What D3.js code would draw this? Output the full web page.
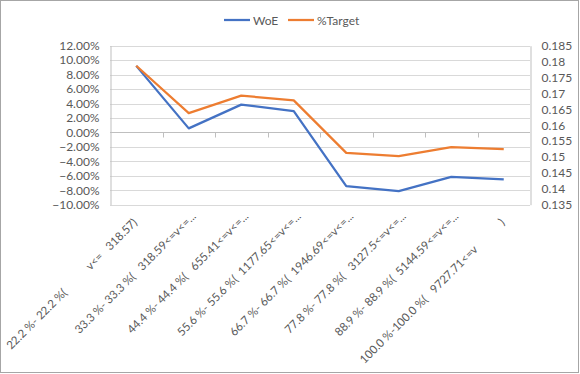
<!DOCTYPE html>
<html>
<head>
<meta charset="utf-8">
<script src="https://cdn.jsdelivr.net/npm/d3@7"></script>
<style>
  body { margin: 0; background: #fff; }
  svg text { font-family: Lato, "Liberation Sans", sans-serif; fill: #595959; }
  .cat { white-space: pre; }
</style>
</head>
<body>
<div class="chart"></div>
<script>
// category labels as excel printed them (spaces kept)
const categories = [
    "22.2 %- 22.2 %(           v<=   318.57)   ",
    "33.3 %- 33.3 %(   318.59<=v<=...",
    "44.4 %- 44.4 %(   655.41<=v<=...",
    "55.6 %- 55.6 %(  1177.65<=v<=...",
    "66.7 %- 66.7 %(  1946.69<=v<=...",
    "77.8 %- 77.8 %(   3127.5<=v<=...",
    "88.9 %- 88.9 %(  5144.59<=v<=...",
    "100.0 %-100.0 %(   9727.71<=v            )   "
];
const woe = [0.0921, 0.0056, 0.0385, 0.0296, -0.0743, -0.0812, -0.0614, -0.0650];
const target = [0.1787, 0.1638, 0.1693, 0.1678, 0.1513, 0.1503, 0.1531, 0.1525];
const leftTicks = d3.range(-0.10, 0.1201, 0.02);
const rightTicks = d3.range(0.135, 0.18501, 0.005);

const width = 580, height = 374;
const plotLeft = 110, plotRight = 530, plotTop = 45.7, plotBottom = 204.7;
const blue = "#4472C4", orange = "#ED7D31";

const svg = d3.select(".chart").append("svg")
    .attr("width", width)
    .attr("height", height);

// chart border
svg.append("rect")
    .attr("x", 0.5).attr("y", 0.5)
    .attr("width", 578).attr("height", 372)
    .attr("fill", "#fff")
    .attr("stroke", "#a6a6a6");

const x = d3.scaleBand().domain(d3.range(categories.length)).range([plotLeft, plotRight]);
const yLeft = d3.scaleLinear().domain([-0.10, 0.12]).range([plotBottom, plotTop]);
const yRight = d3.scaleLinear().domain([0.135, 0.185]).range([plotBottom, plotTop]);
const cx = i => x(i) + x.bandwidth() / 2;

// gridlines from the left axis
svg.append("g").selectAll("line")
    .data(leftTicks)
    .enter().append("line")
    .attr("x1", plotLeft).attr("x2", plotRight)
    .attr("y1", d => Math.round(yLeft(d)) + 0.5)
    .attr("y2", d => Math.round(yLeft(d)) + 0.5)
    .attr("stroke", "#d9d9d9");

// left axis
const leftAxis = svg.append("g")
    .attr("transform", `translate(${plotLeft + 0.5},0)`)
    .call(d3.axisLeft(yLeft).tickValues(leftTicks).tickSize(0).tickPadding(11)
        .tickFormat(d3.format(".2%")));
leftAxis.select(".domain").attr("stroke", "#bfbfbf");
leftAxis.selectAll("text").style("font-size", "12px");

// right axis
const rightAxis = svg.append("g")
    .attr("transform", `translate(${plotRight + 0.5},0)`)
    .call(d3.axisRight(yRight).tickValues(rightTicks).tickSize(0).tickPadding(11)
        .tickFormat(d => d3.format("")(+d.toFixed(3))));
rightAxis.select(".domain").attr("stroke", "#bfbfbf");
rightAxis.selectAll("text").style("font-size", "12px");

// category axis crossing at zero
const y0 = Math.round(yLeft(0)) + 0.5;
svg.append("line")
    .attr("x1", plotLeft).attr("x2", plotRight)
    .attr("y1", y0).attr("y2", y0)
    .attr("stroke", "#bfbfbf");
svg.append("g").selectAll("line")
    .data(d3.range(1, categories.length))
    .enter().append("line")
    .attr("x1", d => Math.round(x(d)) + 0.5)
    .attr("x2", d => Math.round(x(d)) + 0.5)
    .attr("y1", y0).attr("y2", y0 + 5)
    .attr("stroke", "#bfbfbf");

// category labels, rotated, end anchored under each category
svg.append("g").selectAll("text")
    .data(categories)
    .enter().append("text")
    .attr("class", "cat")
    .attr("text-anchor", "end")
    .attr("transform", (d, i) => `translate(${cx(i) + 8},217) rotate(-45)`)
    .style("font-size", "11.5px")
    .text(d => d);

// lines
const woeLine = d3.line().x((d, i) => cx(i)).y(d => yLeft(d));
const targetLine = d3.line().x((d, i) => cx(i)).y(d => yRight(d));

svg.append("path")
    .datum(woe)
    .attr("d", woeLine)
    .attr("fill", "none")
    .attr("stroke", blue)
    .attr("stroke-width", 2.25)
    .attr("stroke-linejoin", "round");

svg.append("path")
    .datum(target)
    .attr("d", targetLine)
    .attr("fill", "none")
    .attr("stroke", orange)
    .attr("stroke-width", 2.25)
    .attr("stroke-linejoin", "round");

// legend
const legendItems = [
    { name: "WoE", color: blue, x: 224 },
    { name: "%Target", color: orange, x: 288 }
];
const legend = svg.append("g").selectAll("g")
    .data(legendItems)
    .enter().append("g")
    .attr("transform", d => `translate(${d.x},20)`);
legend.append("line")
    .attr("x1", 0).attr("x2", 26)
    .attr("stroke", d => d.color)
    .attr("stroke-width", 2.25);
legend.append("text")
    .attr("x", 29).attr("y", 4.5)
    .style("font-size", "12px")
    .text(d => d.name);
</script>
</body>
</html>
